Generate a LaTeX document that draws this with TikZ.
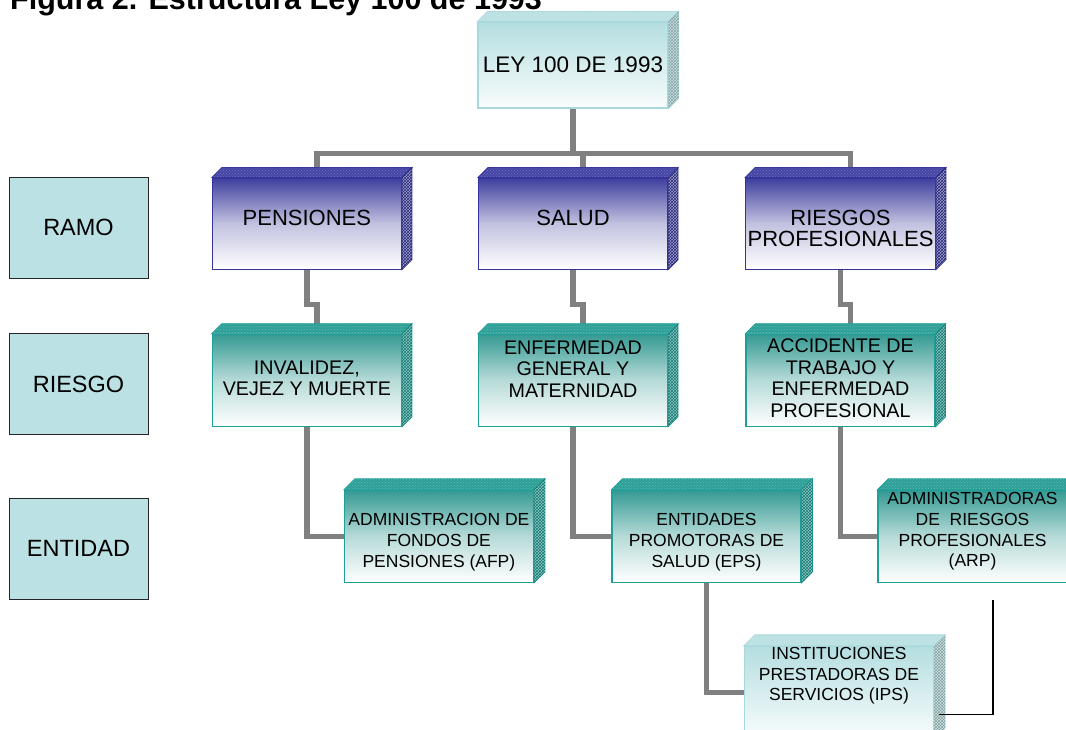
\documentclass[tikz,border=0pt]{standalone}
\usepackage{fontspec}
\setmainfont{Liberation Sans}
\usetikzlibrary{positioning, patterns, calc}

\definecolor{azul}{HTML}{3F3F9F}
\definecolor{azulborde}{HTML}{333399}
\definecolor{azultapa}{HTML}{4646A6}
\definecolor{azullado}{HTML}{A2A2D4}
\definecolor{verde}{HTML}{359A93}
\definecolor{verdeborde}{HTML}{1E9F97}
\definecolor{verdetapa}{HTML}{2EA098}
\definecolor{verdelado}{HTML}{8ECAC6}
\definecolor{cielo}{HTML}{B4DEE0}
\definecolor{cieloborde}{HTML}{A8D8DB}
\definecolor{cielotapa}{HTML}{BBE1E3}
\definecolor{cielolado}{HTML}{D8E2E2}
\definecolor{etiq}{HTML}{BCE1E4}
\definecolor{gris}{HTML}{808080}

\begin{document}
\begin{tikzpicture}[x=1pt, y=-1pt,
    caja/.style={inner sep=2pt, align=center, line width=1.1pt},
    ramo/.style={caja, draw=azulborde, top color=azul, bottom color=white, middle color=azul!32!white, minimum width=189pt, minimum height=91pt, font=\fontsize{22}{21.7}\selectfont},
    riesgo/.style={caja, draw=verdeborde, top color=verde, bottom color=white, middle color=verde!36!white, minimum width=189pt, minimum height=92pt, font=\fontsize{19.7}{21.7}\selectfont},
    entidad/.style={riesgo, font=\fontsize{17.5}{20.8}\selectfont},
    claro/.style={caja, draw=cieloborde, top color=cielo, bottom color=cielo!8!white, minimum width=190pt, minimum height=86pt, font=\fontsize{22.5}{24}\selectfont},
    etiqueta/.style={draw=black!85, line width=0.9pt, fill=etiq, minimum width=139pt, minimum height=101pt, font=\fontsize{23.5}{26}\selectfont},
    conector/.style={draw=gris, line width=5.5pt},
  ]
    \useasboundingbox (0,0) rectangle (1066,730);
    \clip (0,0) rectangle (1066,730);

    \node[inner sep=0pt, anchor=base west, font=\fontsize{30.5}{32}\selectfont\bfseries] (titulo) at (10,10) {Figura 2. Estructura Ley 100 de 1993};

    \node[claro] (ley) at (573,65) {LEY 100 DE 1993};
    \node[ramo, text depth=12pt, below=69pt of ley] (sal) {SALUD};
    \node[ramo, text depth=12pt, left=76pt of sal] (pen) {PENSIONES};
    \node[ramo, text height=46.8pt, right=77pt of sal] (rie) {RIESGOS\\PROFESIONALES};

    \node[riesgo, text depth=4pt, below=64pt of pen] (inv) {INVALIDEZ,\\VEJEZ Y MUERTE};
    \node[riesgo, text depth=22pt, below=64pt of sal] (enf) {ENFERMEDAD\\GENERAL Y\\MATERNIDAD};
    \node[riesgo, text depth=4pt, below=64pt of rie] (acc) {ACCIDENTE DE\\TRABAJO Y\\ENFERMEDAD\\PROFESIONAL};

    \node[entidad, text height=65.6pt, below=63pt of inv, xshift=132pt] (afp) {ADMINISTRACION DE\\FONDOS DE\\PENSIONES (AFP)};
    \node[entidad, text height=65.6pt, below=63pt of enf, xshift=133.5pt] (eps) {ENTIDADES\\PROMOTORAS DE\\SALUD (EPS)};
    \node[entidad, text depth=13.7pt, below=63pt of acc, xshift=132pt] (arp) {ADMINISTRADORAS\\DE\ \ RIESGOS\\PROFESIONALES\\(ARP)};
    \node[claro, minimum width=189pt, minimum height=92pt, below=63pt of eps, xshift=132.5pt] (ips) {};
    \node[inner sep=4pt, align=center, font=\fontsize{17.5}{20.8}\selectfont, below=-3pt of ips.north] (ipstexto) {INSTITUCIONES\\PRESTADORAS DE\\SERVICIOS (IPS)};

    \node[etiqueta] (eramo) at (78.5,227.5) {RAMO};
    \node[etiqueta] (eriesgo) at (78.5,384) {RIESGO};
    \node[etiqueta] (eentidad) at (78.5,548.5) {ENTIDAD};

    \draw[conector] (ley.south) -- ++(0,44);
    \draw[conector] ([shift={(10,-10)}]pen.north) -- ++(0,-14) -| ([shift={(10,-10)}]rie.north);
    \draw[conector] ([shift={(10,-10)}]sal.north) -- ++(0,-14);
    \draw[conector] (pen.south) -- ++(0,35) -| ([shift={(10,-10)}]inv.north);
    \draw[conector] (sal.south) -- ++(0,35) -| ([shift={(10,-10)}]enf.north);
    \draw[conector] (rie.south) -- ++(0,35) -| ([shift={(10,-10)}]acc.north);
    \draw[conector] (inv.south) |- (afp.west);
    \draw[conector] (enf.south) |- (eps.west);
    \draw[conector] (acc.south) |- (arp.west);
    \draw[conector] (eps.south) |- (ips.west);

    \foreach \n/\d/\t/\l/\b in {ley/10/cielotapa/cielolado/cieloborde, ips/11/cielotapa/cielolado/cieloborde,
        pen/10/azultapa/azullado/azulborde, sal/10/azultapa/azullado/azulborde, rie/10/azultapa/azullado/azulborde,
        inv/10/verdetapa/verdelado/verdeborde, enf/10/verdetapa/verdelado/verdeborde, acc/10/verdetapa/verdelado/verdeborde,
        afp/11/verdetapa/verdelado/verdeborde, eps/11/verdetapa/verdelado/verdeborde, arp/11/verdetapa/verdelado/verdeborde}{
      \filldraw[fill=\t, draw=\b, line width=0.8pt, postaction={pattern=crosshatch dots, pattern color=white!25!\t}]
        (\n.north west) -- ++(\d,-\d) -- ([shift={(\d,-\d)}]\n.north east) -- (\n.north east) -- cycle;
      \filldraw[fill=\l, draw=\b, line width=0.8pt, postaction={pattern=crosshatch, pattern color=black!25!\b}]
        (\n.north east) -- ++(\d,-\d) -- ([shift={(\d,-\d)}]\n.south east) -- (\n.south east) -- cycle;
    }

    \coordinate (finarp) at (993,600);
    \draw[line width=1.4pt] ([shift={(5,22)}]ips.east) -| (finarp);
\end{tikzpicture}
\end{document}
